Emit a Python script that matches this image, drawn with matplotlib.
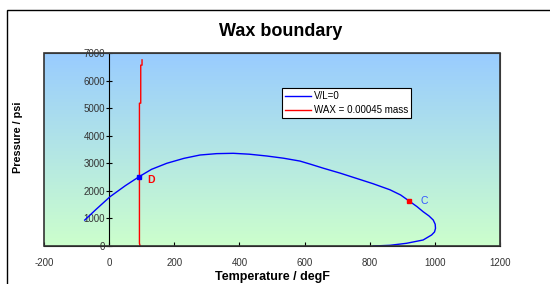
import numpy as np
import matplotlib
matplotlib.use("Agg")
import matplotlib.pyplot as plt
from matplotlib.colors import LinearSegmentedColormap
from matplotlib.patches import Rectangle

plt.rcParams['font.family'] = ['Liberation Sans', 'DejaVu Sans']
plt.rcParams['axes.unicode_minus'] = False

# V/L = 0 phase envelope
vl_temp = [-75, -40, 3, 50, 92, 130, 177, 230, 279, 330, 381, 430, 484, 535, 586,
           620, 658, 710, 760, 810, 862, 895, 921, 945, 964, 982, 995, 1001, 1002,
           999, 990, 964, 913, 862, 811]
vl_pres = [940, 1330, 1790, 2190, 2514, 2780, 3000, 3180, 3300, 3350, 3362, 3330,
           3264, 3185, 3080, 2960, 2820, 2640, 2450, 2260, 2040, 1850, 1632, 1430,
           1244, 1090, 943, 790, 642, 510, 400, 218, 98, 25, 0]

# wax appearance line
wax_temp = [95, 93, 93, 97, 97, 101, 101]
wax_pres = [0, 100, 5180, 5180, 6560, 6560, 6750]

pt_c = (921, 1632)
pt_d = (92, 2514)

xticks = [-200, 0, 200, 400, 600, 800, 1000, 1200]
yticks = [0, 1000, 2000, 3000, 4000, 5000, 6000, 7000]

fig = plt.figure(figsize=(5.5, 2.84), dpi=100)
ax = fig.add_axes([44 / 550, 1 - 246 / 284, 456 / 550, 193 / 284])

# outer chart frame
fig.patches.append(Rectangle((7 / 550, -0.1), 1.2, 1.1 - 10 / 284,
                             transform=fig.transFigure, fill=False,
                             edgecolor='black', linewidth=1.0))

# gradient background
cmap = LinearSegmentedColormap.from_list('bg', ['#ccffcc', '#99ccff'])
grad = np.linspace(0, 1, 256).reshape(-1, 1)
ax.imshow(grad, cmap=cmap, aspect='auto', extent=[0, 1, 0, 1],
          transform=ax.transAxes, origin='lower', zorder=0)

ax.plot(vl_temp, vl_pres, color='#0000ff', lw=1.0, label='V/L=0', zorder=3)
ax.plot(wax_temp, wax_pres, color='#ff0000', lw=1.0, label='WAX = 0.00045 mass', zorder=3)

ax.plot(*pt_c, 's', color='#ff0000', ms=3, zorder=4)
ax.plot(*pt_d, 's', color='#0000ff', ms=3, zorder=4)
ax.text(955, pt_c[1], 'C', color='#3355ff', fontsize=7.5, va='center', ha='left')
ax.text(117, 2400, 'D', color='#ff0000', fontsize=7.5, fontweight='bold', va='center', ha='left')

ax.set_xlim(-200, 1200)
ax.set_ylim(0, 7000)
ax.set_xticks(xticks)
ax.set_yticks(yticks)

for s in ['top', 'right']:
    ax.spines[s].set_color('#555555')
ax.spines['left'].set_position(('data', 0))
ax.spines['left'].set_color('black')
ax.spines['bottom'].set_color('black')

# plot-area border (the y axis line itself sits at x=0)
ax.add_patch(Rectangle((0, 0), 1, 1, transform=ax.transAxes, fill=False,
                       edgecolor='#333333', linewidth=1.2, zorder=5, clip_on=False))

ax.tick_params(axis='x', direction='in', length=3, pad=9, labelsize=7,
               labelcolor='#333333')
ax.tick_params(axis='y', direction='inout', length=4, pad=1, labelsize=7,
               labelcolor='#333333')

ax.set_xlabel('Temperature / degF', fontsize=9, fontweight='bold', labelpad=2)
ax.set_ylabel('Pressure / psi', fontsize=7.8, fontweight='bold')
ax.yaxis.set_label_coords(-21 / 456, 0.565)
ax.set_title('Wax boundary', fontsize=13, fontweight='bold', pad=12, x=0.519)

leg = ax.legend(loc='upper left', bbox_to_anchor=(0.522, 0.82), fontsize=7,
                frameon=True, fancybox=False, edgecolor='black', framealpha=1,
                handlelength=2.6, handletextpad=0.3, borderpad=0.35,
                labelspacing=0.4, borderaxespad=0)
leg.get_frame().set_linewidth(0.8)

fig.savefig('out.png', dpi=100)
